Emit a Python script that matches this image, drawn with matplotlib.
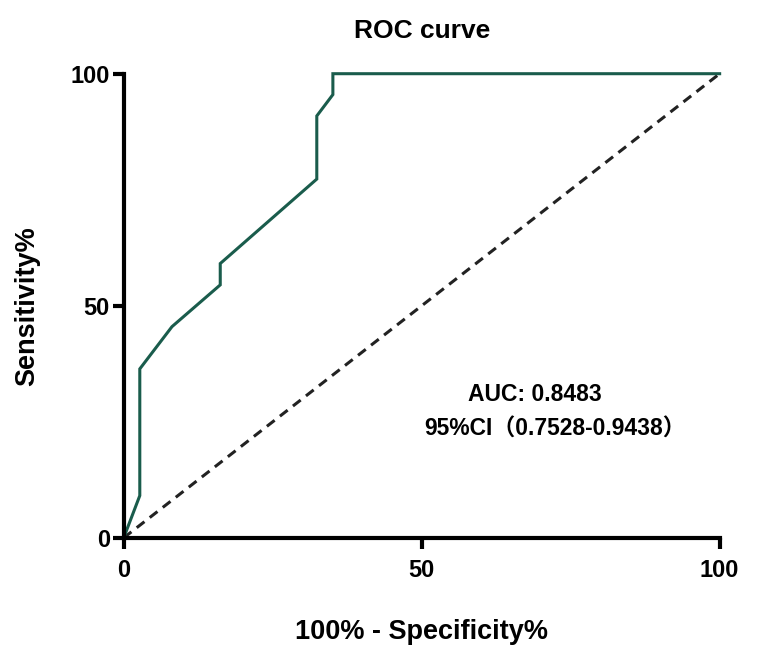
import matplotlib.pyplot as plt

# ROC points (100% - specificity, sensitivity)
fpr = [0, 2.7, 2.7, 8.1, 16.2, 16.2, 32.4, 32.4, 35.1, 35.1, 100]
tpr = [0, 9.1, 36.4, 45.5, 54.5, 59.1, 77.3, 90.9, 95.5, 100, 100]
diag = [0, 100]
xticks = [0, 50, 100]
yticks = [0, 50, 100]

plt.rcParams['font.family'] = ['Liberation Sans', 'Noto Sans CJK SC']
plt.rcParams['font.weight'] = 'bold'

fig = plt.figure(figsize=(7.78, 6.64), dpi=100)
ax = fig.add_axes([0.159, 0.19, 0.766, 0.699])

ax.plot(diag, diag, color='#222222', lw=2.2, ls=(0, (3.2, 2.2)), clip_on=False)
ax.plot(fpr, tpr, color='#1a5c4c', lw=2.2, clip_on=False, solid_joinstyle='miter')

ax.set_xlim(0, 100)
ax.set_ylim(0, 100)
ax.set_xticks(xticks)
ax.set_yticks(yticks)
for s in ['top', 'right']:
    ax.spines[s].set_visible(False)
for s in ['left', 'bottom']:
    ax.spines[s].set_linewidth(3)
ax.tick_params(width=3, length=8, labelsize=17, pad=2)
ax.tick_params(axis='x', pad=7)

ax.set_title('ROC curve', fontsize=19, fontweight='bold', pad=26)
ax.set_xlabel('100% - Specificity%', fontsize=19.5, fontweight='bold', labelpad=27)
ax.set_ylabel('Sensitivity%', fontsize=19.5, fontweight='bold', labelpad=22)

ax.text(57.7, 30.8, 'AUC: 0.8483', fontsize=16.5, fontweight='bold', va='center')
ax.text(50.5, 23.3, '95%CI（0.7528-0.9438）', fontsize=16.5, fontweight='bold', va='center')

fig.savefig('out.png', dpi=100)
